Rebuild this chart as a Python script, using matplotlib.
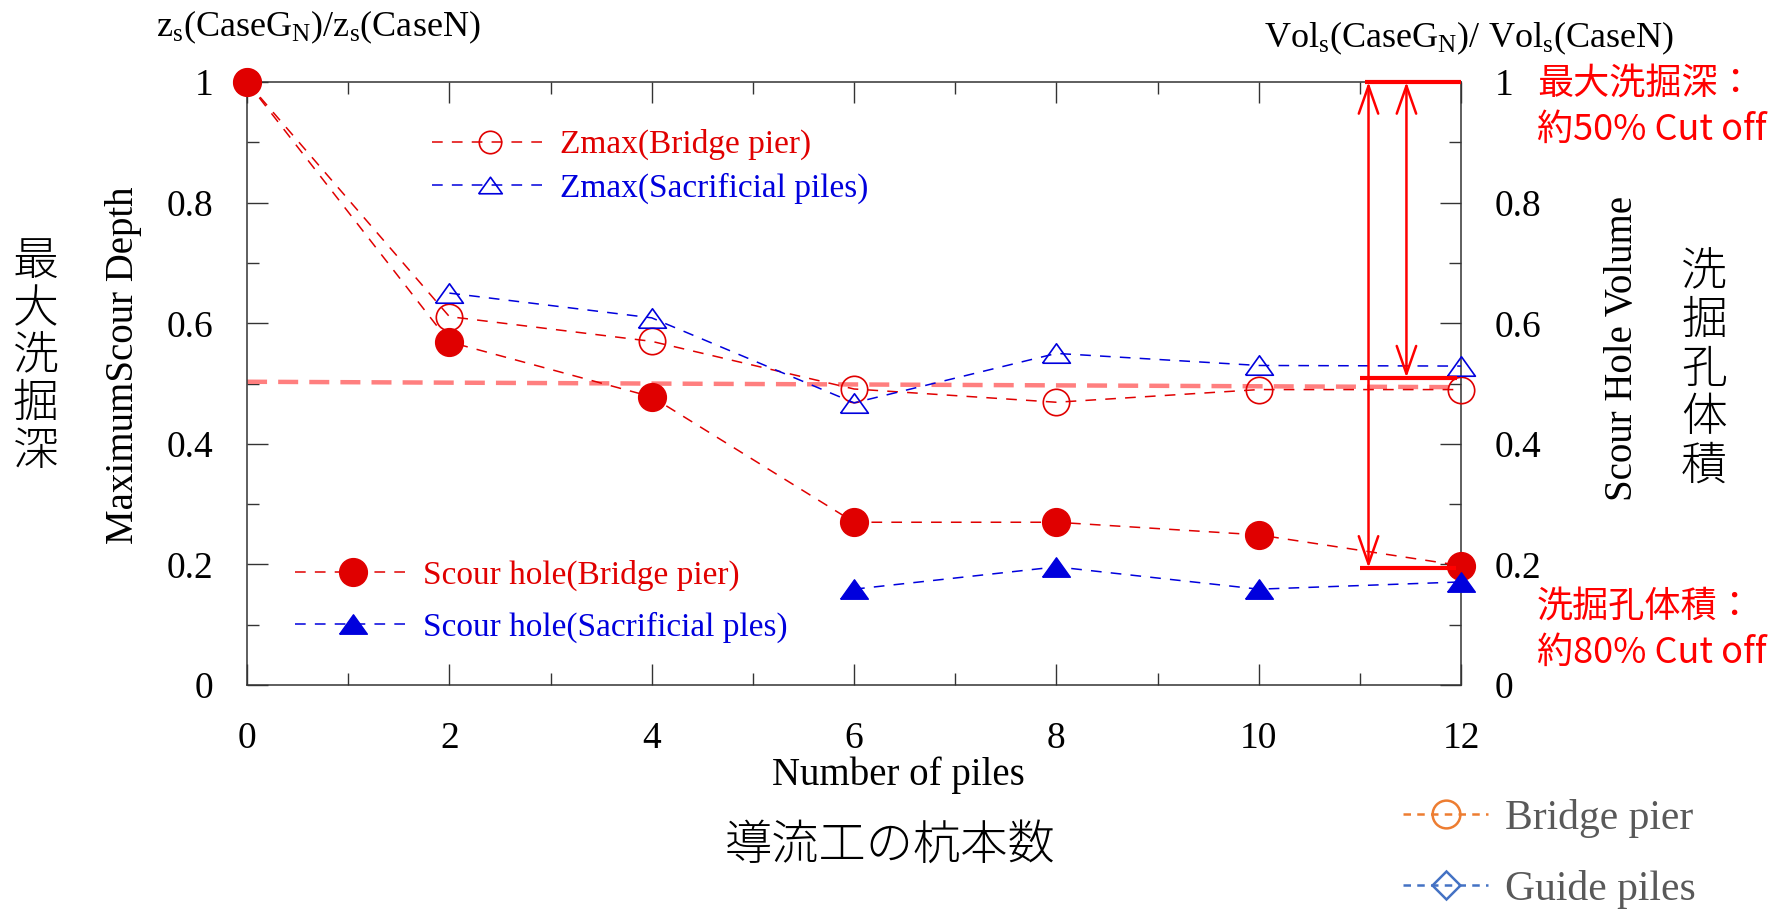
import matplotlib
matplotlib.use('Agg')
import matplotlib.pyplot as plt
from matplotlib.lines import Line2D
from matplotlib.ticker import MultipleLocator, FuncFormatter

plt.rcParams['font.family'] = ['Liberation Serif', 'Noto Sans CJK JP']
plt.rcParams['mathtext.fontset'] = 'custom'
plt.rcParams['mathtext.rm'] = 'Liberation Serif'
plt.rcParams['mathtext.it'] = 'Liberation Serif:italic'

# data
zmax_pier_x = [0, 2, 4, 6, 8, 10, 12]
zmax_pier_y = [1.0, 0.611, 0.570, 0.491, 0.469, 0.490, 0.490]
zmax_piles_x = [2, 4, 6, 8, 10, 12]
zmax_piles_y = [0.650, 0.609, 0.468, 0.550, 0.530, 0.529]
hole_pier_x = [0, 2, 4, 6, 8, 10, 12]
hole_pier_y = [1.0, 0.569, 0.478, 0.270, 0.270, 0.249, 0.198]
hole_piles_x = [6, 8, 10, 12]
hole_piles_y = [0.159, 0.196, 0.159, 0.171]

# hand drawn 50% guide and cut-off marks
half_x = [0, 12]
half_y = [0.503, 0.494]
bar_y = [1.0, 0.510, 0.1945]
bar_x0 = [11.05, 11.0, 11.0]
bar_x1 = [12.0, 11.96, 11.95]
arrow_x = [11.085, 11.46]
arrow_top = [1.0, 1.0]
arrow_bottom = [0.1945, 0.510]

RED = '#E00000'
BLUE = '#0000DD'
# flat triangle like the original plotting program, closed path
tri = [(-1, -0.7), (1, -0.7), (0, 0.7), (-1, -0.7)]
dash = (0, (7, 6))

fig = plt.figure(figsize=(17.89, 9.14), dpi=100)
ax = fig.add_axes([0.1381, 0.2505, 0.6786, 0.6597])

ax.plot(half_x, half_y, color='#FF7F7F', lw=3.2, ls=(0, (4.5, 2.5)), zorder=2)

h1, = ax.plot(zmax_pier_x, zmax_pier_y, color=RED, lw=1.1, ls=dash, marker='o', ms=19,
              mfc='none', mec=RED, mew=1.2, clip_on=False, zorder=3, label='Zmax(Bridge pier)')
h2, = ax.plot(zmax_piles_x, zmax_piles_y, color=BLUE, lw=1.1, ls=dash, marker=tri, ms=20,
              mfc='none', mec=BLUE, mew=1.2, clip_on=False, zorder=3, label='Zmax(Sacrificial piles)')
h3, = ax.plot(hole_pier_x, hole_pier_y, color=RED, lw=1.1, ls=dash, marker='o', ms=20,
              mfc=RED, mec=RED, clip_on=False, zorder=4, label='Scour hole(Bridge pier)')
h4, = ax.plot(hole_piles_x, hole_piles_y, color=BLUE, lw=1.1, ls=dash, marker=tri, ms=20,
              mfc=BLUE, mec=BLUE, clip_on=False, zorder=4, label='Scour hole(Sacrificial ples)')

for y, a, b in zip(bar_y, bar_x0, bar_x1):
    ax.plot([a, b], [y, y], color='#FF0000', lw=3, solid_capstyle='butt', clip_on=False, zorder=5)
for x, t, b in zip(arrow_x, arrow_top, arrow_bottom):
    ax.annotate('', xy=(x, t), xytext=(x, b),
                arrowprops=dict(arrowstyle='<->,head_length=1.0,head_width=0.35', color='#FF0000',
                                lw=1.8, shrinkA=0, shrinkB=0, mutation_scale=20), zorder=5)

ax.set_xlim(0, 12)
ax.set_ylim(0, 1)
ax.set_xticks(range(0, 13, 2))
ax.xaxis.set_minor_locator(MultipleLocator(1))
ax.yaxis.set_major_locator(MultipleLocator(0.2))
ax.yaxis.set_minor_locator(MultipleLocator(0.1))
ax.yaxis.set_major_formatter(FuncFormatter(lambda v, p: f'{v:g}'))
ax.tick_params(which='both', direction='in', top=True, right=True, labelright=True,
               width=1.0, color='#333333', labelsize=27)
ax.tick_params(which='major', length=15)
ax.tick_params(which='minor', length=8.5)
ax.tick_params(axis='y', pad=24)
ax.tick_params(axis='x', pad=26)
for s in ax.spines.values():
    s.set_linewidth(1.1)
    s.set_color('#333333')

leg1 = ax.legend(handles=[h1, h2], loc='center left', bbox_to_anchor=(0.1524, 0.860),
                 frameon=False, fontsize=24, handlelength=3.48, handletextpad=0.36,
                 labelspacing=0.36, borderpad=0, borderaxespad=0, markerscale=0.85,
                 labelcolor='linecolor')
ax.add_artist(leg1)
ax.legend(handles=[h3, h4], loc='center left', bbox_to_anchor=(0.0395, 0.139),
          frameon=False, fontsize=24, handlelength=3.45, handletextpad=0.39,
          labelspacing=0.64, borderpad=0, borderaxespad=0, labelcolor='linecolor')

# axis titles
fig.text(0.1778, 0.9606, r'z$_\mathrm{s}$(CaseG$_\mathrm{N}$)/z$_\mathrm{s}$(CaseN)',
         ha='center', va='baseline', fontsize=26)
fig.text(0.8211, 0.9486, r'Vol$_\mathrm{s}$(CaseG$_\mathrm{N}$)/ Vol$_\mathrm{s}$(CaseN)',
         ha='center', va='baseline', fontsize=26)
fig.text(0.0693, 0.6007, 'MaximumScour Depth', rotation=90, ha='center', va='center', fontsize=28)
fig.text(0.9067, 0.619, 'Scour Hole Volume', rotation=90, ha='center', va='center', fontsize=28)
fig.text(0.502, 0.152, 'Number of piles', ha='center', va='center', fontsize=28)

jp = 'Noto Sans CJK JP'
for i, ch in enumerate('最大洗掘深'):
    fig.text(0.0201, 1 - (262 + 47.5 * i) / 914, ch, ha='center', va='center',
             fontsize=33, family=jp, fontweight='light')
for i, ch in enumerate('洗掘孔体積'):
    fig.text(0.9525, 1 - (273 + 48.5 * i) / 914, ch, ha='center', va='center',
             fontsize=33, family=jp, fontweight='light')
fig.text(0.4975, 0.0755, '導流工の杭本数', ha='center', va='center', fontsize=34,
         family=jp, fontweight='light')

note_x = 0.8591
fig.text(note_x, 0.9081, '最大洗掘深：', ha='left', va='center', fontsize=26, color='#FF0000', family=jp)
fig.text(note_x, 0.8580, '約50% Cut off', ha='left', va='center', fontsize=26, color='#FF0000', family=jp)
fig.text(note_x, 0.3359, '洗掘孔体積：', ha='left', va='center', fontsize=26, color='#FF0000', family=jp)
fig.text(note_x, 0.2860, '約80% Cut off', ha='left', va='center', fontsize=26, color='#FF0000', family=jp)

# pasted key at bottom right
key = [Line2D([], [], color='#ED7D31', lw=1.8, ls=(0, (3, 2.5)), marker='o', ms=20,
              mfc='none', mec='#ED7D31', mew=1.8),
       Line2D([], [], color='#4472C4', lw=1.8, ls=(0, (3, 2.5)), marker='D', ms=14,
              mfc='none', mec='#4472C4', mew=1.8)]
fig.legend(handles=key, labels=['Bridge pier', 'Guide piles'], loc='center left',
           bbox_to_anchor=(0.7843, 0.0656), frameon=False, fontsize=30, labelcolor='#595959',
           handlelength=2.04, handletextpad=0.4, labelspacing=0.77, borderpad=0, borderaxespad=0)

fig.savefig('out.png', dpi=100)
